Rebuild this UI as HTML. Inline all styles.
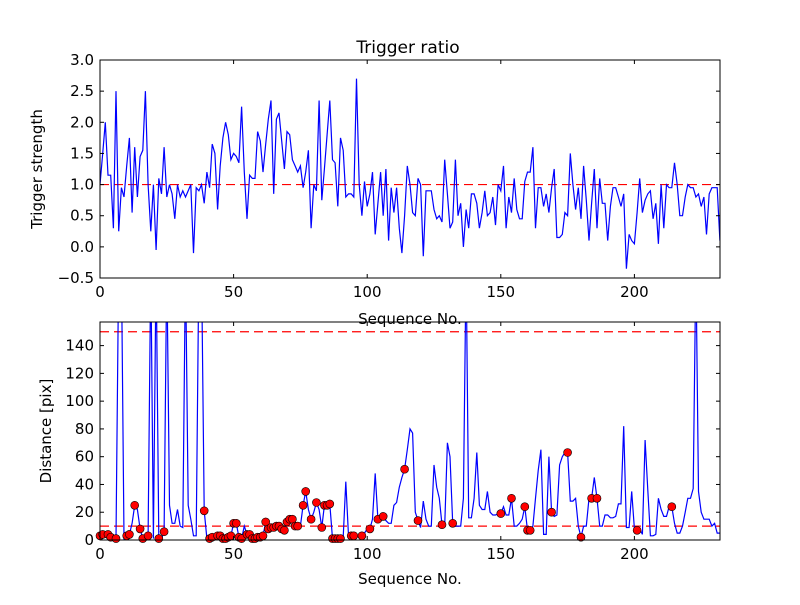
<!DOCTYPE html>
<html><head><meta charset="utf-8"><style>
html,body{margin:0;padding:0;background:#fff;}
svg text{font-family:"DejaVu Sans","Liberation Sans",sans-serif;fill:#000;}
</style></head><body>
<svg id="s" width="800" height="600" xmlns="http://www.w3.org/2000/svg">
<rect width="800" height="600" fill="#fff"/>
<defs>
<clipPath id="c1"><rect x="100" y="60" width="620" height="218"/></clipPath>
<clipPath id="c2"><rect x="100" y="322" width="620" height="218"/></clipPath>
</defs>
<g id="g"></g>
<text x="408" y="53" font-size="17" text-anchor="middle">Trigger ratio</text>
<text transform="translate(42,169) rotate(-90)" font-size="15" text-anchor="middle">Trigger strength</text>
<text x="410" y="324" font-size="15" text-anchor="middle">Sequence No.</text>
<text transform="translate(51,431) rotate(-90)" font-size="15" text-anchor="middle">Distance [pix]</text>
<text x="410" y="584" font-size="15" text-anchor="middle">Sequence No.</text>
</svg>
<script>
var topData=[1.0,1.5,2.0,1.15,1.15,0.3,2.5,0.25,0.95,0.8,1.3,1.75,0.55,1.6,0.8,1.45,1.55,2.5,1.0,0.25,1.0,-0.05,1.1,0.85,1.6,0.8,1.0,0.85,0.45,1.0,0.8,0.9,0.8,0.9,1.0,-0.1,0.95,0.9,1.0,0.7,1.2,0.95,1.65,1.5,0.6,1.3,1.75,2.0,1.8,1.4,1.5,1.45,1.35,2.25,1.2,0.45,1.15,1.1,1.1,1.85,1.7,1.2,1.65,2.05,2.35,0.85,2.05,2.15,1.7,1.25,1.85,1.8,1.4,1.3,1.2,1.3,0.95,1.2,1.55,0.3,1.0,0.9,2.35,0.75,1.25,1.8,2.35,1.4,1.35,0.65,1.75,1.55,0.8,0.85,0.85,0.8,2.7,1.0,0.5,1.05,0.65,0.85,1.2,0.2,0.7,1.2,0.5,1.25,0.1,0.95,0.55,0.95,0.3,-0.1,0.5,1.3,1.0,0.55,0.5,1.1,1.0,-0.15,0.9,0.9,0.9,0.6,0.45,0.5,0.4,1.4,0.85,0.3,0.4,1.4,0.5,0.7,0.0,0.6,0.3,0.85,0.85,0.7,0.3,0.55,0.9,0.5,0.55,0.8,0.35,1.0,0.9,1.3,0.3,0.8,0.55,1.1,0.6,0.45,0.45,1.05,1.2,1.2,1.6,0.3,0.95,0.95,0.65,0.85,0.55,0.95,1.25,0.15,0.15,0.2,0.55,0.5,1.5,1.0,0.6,0.95,0.45,1.3,0.75,0.1,0.7,1.25,0.3,1.1,0.7,0.7,0.1,0.65,0.95,0.95,0.8,0.65,0.85,-0.35,0.2,0.1,0.05,0.55,1.1,0.55,0.75,0.85,0.9,0.45,0.7,0.05,1.0,0.3,1.0,0.95,0.95,1.35,1.0,0.5,0.5,0.8,1.0,0.95,0.95,0.8,0.85,0.65,0.8,0.2,0.85,0.95,0.95,0.95,0.1];
var b={0:3,1:4,2:5,3:4,4:2,5:2,6:1,7:200,8:200,9:1,10:3,11:4,12:12,13:25,14:22,15:8,16:1,17:2,18:3,19:200,20:1,21:200,22:1,23:1,24:6,25:200,26:25,27:12,28:12,29:22,30:10,31:9,32:200,33:25,34:15,35:3,36:3,37:200,38:200,39:21,40:1,41:1,42:2,43:2,44:3,45:3,46:1,47:1,48:2,49:3,50:12,51:12,52:2,53:1,54:10,55:4,56:4,57:1,58:1,59:2,60:2,61:3,62:13,63:8,64:9,65:9,66:10,67:10,68:8,69:7,70:13,71:15,72:15,73:10,74:10,75:10,76:25,77:35,78:22,79:15,80:20,81:27,82:22,83:9,84:25,85:25,86:26,87:1,88:1,89:1,90:1,91:2,92:42,93:3,94:3,95:3,96:3,97:3,98:3,99:5,100:8,101:8,102:15,103:48,104:15,105:17,106:17,107:14,108:12,109:12,110:25,111:27,112:38,113:45,114:51,115:65,116:80,117:77,118:20,119:14,120:9,121:28,122:15,123:10,124:10,125:54,126:38,127:30,128:11,129:10,130:70,131:60,132:12,133:10,134:10,135:10,136:30,137:200,138:16,139:16,140:30,141:63,142:25,143:22,144:22,145:35,146:20,147:18,148:18,149:19,150:19,151:24,152:18,153:18,154:30,155:10,156:10,157:12,158:15,159:24,160:7,161:7,162:10,163:30,164:50,165:65,166:4,167:4,168:60,169:20,170:17,171:18,172:54,173:60,174:63,175:63,176:28,177:28,178:30,179:10,180:2,181:10,182:10,183:30,184:30,185:45,186:30,187:10,188:10,189:18,190:18,191:16,192:16,193:17,194:26,195:26,196:82,197:9,198:9,199:35,200:8,201:7,202:8,203:4,204:72,205:36,206:3,207:3,208:4,209:30,210:22,211:17,212:17,213:24,214:24,215:12,216:5,217:5,218:10,219:20,220:30,221:30,222:37,223:200,224:35,225:20,226:15,227:15,228:15,229:10,230:12,231:5,232:5};
var mk=[0,1,3,4,6,10,11,13,15,16,18,22,24,39,41,42,44,45,46,47,48,49,50,51,52,53,55,56,57,58,59,60,61,62,63,64,65,66,67,68,69,70,71,72,73,74,76,77,79,81,83,84,85,86,87,88,89,90,94,95,98,101,104,106,114,119,128,132,150,154,159,160,161,169,175,180,184,186,201,214];
var X=function(i){return 100+2.672*i;};
var Y1=function(v){return 60+(3-v)*62.29;};
var Y2=function(v){return 540-1.3885*v;};
var h='';
h+='<line x1="100" y1="'+Y1(1)+'" x2="720" y2="'+Y1(1)+'" stroke="#f00" stroke-width="1.2" stroke-dasharray="9,5"/>';
var p='';for(var i=0;i<topData.length;i++)p+=(i?'L':'M')+X(i).toFixed(1)+','+Y1(topData[i]).toFixed(1);
h+='<path d="'+p+'" fill="none" stroke="#00f" stroke-width="1.2" clip-path="url(#c1)"/>';
h+='<g clip-path="url(#c2)">';
h+='<line x1="100" y1="'+Y2(150)+'" x2="720" y2="'+Y2(150)+'" stroke="#f00" stroke-width="1.2" stroke-dasharray="9,5"/>';
h+='<line x1="100" y1="'+Y2(10)+'" x2="720" y2="'+Y2(10)+'" stroke="#f00" stroke-width="1.2" stroke-dasharray="9,5"/>';
p='';for(i=0;i<=232;i++)p+=(i?'L':'M')+X(i).toFixed(1)+','+Y2(b[i]).toFixed(1);
h+='<path d="'+p+'" fill="none" stroke="#00f" stroke-width="1.2"/>';
h+='</g>';
for(i=0;i<mk.length;i++)h+='<circle cx="'+X(mk[i]).toFixed(1)+'" cy="'+Y2(b[mk[i]]).toFixed(1)+'" r="4" fill="#f00" stroke="#000" stroke-width="0.6"/>';
function axes(y0,y1,yt,Yf,lab){
 var s='<rect x="100" y="'+y0+'" width="620" height="'+(y1-y0)+'" fill="none" stroke="#000" stroke-width="1"/>';
 [0,50,100,150,200].forEach(function(t){var x=X(t);
  s+='<line x1="'+x+'" y1="'+y1+'" x2="'+x+'" y2="'+(y1-4)+'" stroke="#000"/><line x1="'+x+'" y1="'+y0+'" x2="'+x+'" y2="'+(y0+4)+'" stroke="#000"/>';
  s+='<text x="'+x+'" y="'+(y1+19)+'" font-size="15" text-anchor="middle">'+t+'</text>';});
 yt.forEach(function(t,k){var y=Yf(t);
  s+='<line x1="100" y1="'+y+'" x2="104" y2="'+y+'" stroke="#000"/><line x1="720" y1="'+y+'" x2="716" y2="'+y+'" stroke="#000"/>';
  s+='<text x="94" y="'+(y+5)+'" font-size="15" text-anchor="end">'+lab[k]+'</text>';});
 return s;}
h+=axes(60,278,[-0.5,0,0.5,1,1.5,2,2.5,3],Y1,['\u22120.5','0.0','0.5','1.0','1.5','2.0','2.5','3.0']);
h+=axes(322,540,[0,20,40,60,80,100,120,140],Y2,['0','20','40','60','80','100','120','140']);
document.getElementById('g').innerHTML=h;
</script>
</body></html>
